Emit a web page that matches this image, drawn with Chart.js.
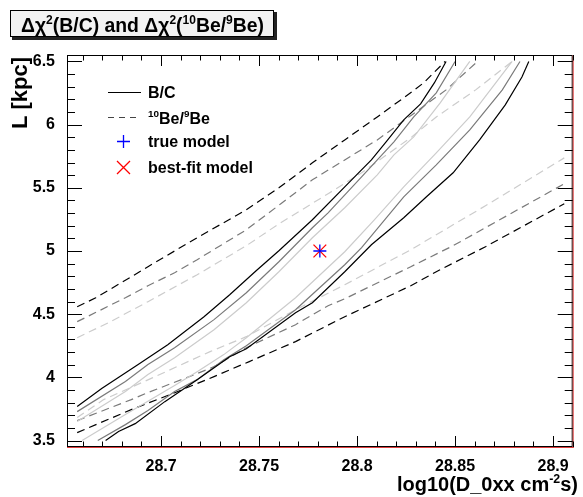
<!DOCTYPE html>
<html>
<head>
<meta charset="utf-8">
<script src="https://cdn.jsdelivr.net/npm/chart.js@4/dist/chart.umd.min.js"></script>
<style>
  body { margin: 0; background: #fff; }
</style>
</head>
<body>
<canvas id="c" width="583" height="497"></canvas>
<script>
// axis ticks
var xTicks = [28.7, 28.75, 28.8, 28.85, 28.9];
var xTickLabels = ['28.7', '28.75', '28.8', '28.85', '28.9'];
var yTicks = [3.5, 4, 4.5, 5, 5.5, 6, 6.5];
var yTickLabels = ['3.5', '4', '4.5', '5', '5.5', '6', '6.5'];

// B/C contours (1 = black outer, 2 = gray, 3 = light gray inner), Up = left branch, Lo = right branch
var bc1UpD = [28.6572, 28.6697, 28.6883, 28.7034, 28.7219, 28.7350, 28.7485, 28.7601, 28.7772, 28.7937, 28.8073, 28.8148, 28.8238, 28.8324, 28.8394, 28.8454];
var bc1UpL = [3.769, 3.911, 4.101, 4.259, 4.480, 4.654, 4.844, 5.002, 5.247, 5.508, 5.721, 5.864, 6.038, 6.164, 6.330, 6.5];
var bc2UpD = [28.6572, 28.6818, 28.6933, 28.7069, 28.7270, 28.7435, 28.7601, 28.7772, 28.7852, 28.8023, 28.8188, 28.8289, 28.8404, 28.8500];
var bc2UpL = [3.729, 3.967, 4.101, 4.235, 4.457, 4.670, 4.915, 5.184, 5.302, 5.587, 5.864, 6.061, 6.251, 6.5];
var bc3UpD = [28.6572, 28.6818, 28.6933, 28.7069, 28.7270, 28.7435, 28.7601, 28.7772, 28.7937, 28.8103, 28.8188, 28.8289, 28.8424, 28.8575];
var bc3UpL = [3.650, 3.888, 4.022, 4.156, 4.377, 4.591, 4.836, 5.105, 5.342, 5.603, 5.761, 5.903, 6.172, 6.5];
var bc3LoD = [28.6597, 28.6818, 28.7069, 28.7184, 28.7320, 28.7435, 28.7686, 28.7937, 28.8088, 28.8238, 28.8404, 28.8575, 28.8791];
var bc3LoL = [3.5, 3.706, 3.935, 4.045, 4.180, 4.314, 4.630, 4.994, 5.247, 5.508, 5.777, 6.061, 6.5];
var bc2LoD = [28.6677, 28.6818, 28.6933, 28.7069, 28.7184, 28.7320, 28.7435, 28.7686, 28.7937, 28.8023, 28.8238, 28.8404, 28.8575, 28.8741, 28.8831];
var bc2LoL = [3.5, 3.626, 3.737, 3.888, 3.982, 4.140, 4.251, 4.535, 4.891, 5.026, 5.429, 5.682, 5.958, 6.275, 6.5];
var bc1LoD = [28.6717, 28.6783, 28.6868, 28.7019, 28.7184, 28.7350, 28.7435, 28.7686, 28.7772, 28.7937, 28.8073, 28.8238, 28.8354, 28.8490, 28.8625, 28.8756, 28.8841, 28.8876];
var bc1LoL = [3.5, 3.571, 3.634, 3.808, 3.982, 4.164, 4.227, 4.512, 4.591, 4.836, 5.049, 5.263, 5.429, 5.619, 5.879, 6.156, 6.377, 6.5];

// 10Be/9Be contours, same order
var be1UpD = [28.6572, 28.6667, 28.6848, 28.6933, 28.7184, 28.7435, 28.7601, 28.7772, 28.7937, 28.8103, 28.8279, 28.8339, 28.8449];
var be1UpL = [4.559, 4.630, 4.796, 4.876, 5.105, 5.326, 5.500, 5.698, 5.879, 6.061, 6.259, 6.330, 6.5];
var be2UpD = [28.6572, 28.6818, 28.6933, 28.7069, 28.7184, 28.7435, 28.7611, 28.7772, 28.7937, 28.8103, 28.8279, 28.8454, 28.8615];
var be2UpL = [4.441, 4.630, 4.725, 4.828, 4.931, 5.168, 5.374, 5.563, 5.721, 5.879, 6.077, 6.275, 6.5];
var be3UpD = [28.6572, 28.6732, 28.6933, 28.7184, 28.7435, 28.7601, 28.7852, 28.8023, 28.8279, 28.8404, 28.8605, 28.8791];
var be3UpL = [4.314, 4.433, 4.599, 4.812, 5.042, 5.215, 5.453, 5.619, 5.903, 6.061, 6.275, 6.5];
var be3LoD = [28.6572, 28.6707, 28.6958, 28.7250, 28.7435, 28.7686, 28.7937, 28.8274, 28.8655, 28.9057];
var be3LoL = [3.682, 3.824, 3.998, 4.204, 4.322, 4.535, 4.733, 5.010, 5.358, 5.737];
var be2LoD = [28.6572, 28.6848, 28.6933, 28.7184, 28.7270, 28.7435, 28.7686, 28.7852, 28.7937, 28.8274, 28.8490, 28.9057];
var be2LoL = [3.658, 3.824, 3.880, 4.030, 4.085, 4.235, 4.417, 4.567, 4.622, 4.876, 5.042, 5.532];
var be1LoD = [28.6572, 28.6848, 28.7059, 28.7270, 28.7450, 28.7686, 28.7937, 28.8274, 28.8404, 28.8655, 28.9057];
var be1LoL = [3.563, 3.745, 3.872, 4.006, 4.125, 4.283, 4.480, 4.725, 4.836, 5.034, 5.374];

// model points
var trueModel = [28.781, 5.0];
var bestFit = [28.781, 5.0];

var FONT = '"Liberation Sans", Arial, sans-serif';

function pts(d, l) {
  return d.map(function(v, i) { return { x: v, y: l[i] }; });
}

function line(d, l, color, dash, w) {
  return {
    data: pts(d, l),
    showLine: true,
    borderColor: color,
    borderWidth: w,
    borderDash: dash,
    pointRadius: 0,
    fill: false
  };
}

// text with superscripts: parts = [[text, isSup], ...]
function richText(ctx, parts, x, y, size) {
  var cx = x;
  parts.forEach(function(p) {
    var s = p[1] ? size * 0.62 : size;
    ctx.font = 'bold ' + s + 'px ' + FONT;
    ctx.fillText(p[0], cx, p[1] ? y - size * 0.42 : y);
    cx += ctx.measureText(p[0]).width;
  });
  return cx - x;
}
function richWidth(ctx, parts, size) {
  var w = 0;
  parts.forEach(function(p) {
    ctx.font = 'bold ' + (p[1] ? size * 0.62 : size) + 'px ' + FONT;
    w += ctx.measureText(p[0]).width;
  });
  return w;
}

var decor = {
  id: 'decor',
  beforeDraw: function(chart) {
    var ctx = chart.ctx;
    ctx.save();
    ctx.fillStyle = '#fff';
    ctx.fillRect(0, 0, chart.width, chart.height);
    ctx.restore();
  },
  afterDraw: function(chart) {
    var ctx = chart.ctx, a = chart.chartArea;
    var xs = chart.scales.x, ys = chart.scales.y;
    var i, v, p, len;
    ctx.save();

    // frame
    ctx.strokeStyle = '#000';
    ctx.lineWidth = 1;
    ctx.strokeRect(a.left + 0.5, a.top + 0.5, a.right - a.left - 1, a.bottom - a.top - 1);
    ctx.strokeStyle = '#e04040';
    ctx.beginPath();
    ctx.moveTo(a.left, a.bottom + 0.5); ctx.lineTo(a.right + 1, a.bottom + 0.5);
    ctx.moveTo(a.right + 0.5, a.top); ctx.lineTo(a.right + 0.5, a.bottom + 1);
    ctx.stroke();

    // inward ticks on all sides
    ctx.strokeStyle = '#000';
    ctx.beginPath();
    for (i = 0; i <= 30; i++) {
      v = 28.65 + i * 0.01;
      if (v < xs.min || v > xs.max) continue;
      p = Math.round(xs.getPixelForValue(v)) + 0.5;
      len = (i % 5 === 0) ? 11 : 5.5;
      ctx.moveTo(p, a.bottom); ctx.lineTo(p, a.bottom - len);
      ctx.moveTo(p, a.top); ctx.lineTo(p, a.top + len);
    }
    for (i = 0; i <= 35; i++) {
      v = 3.4 + i * 0.1;
      if (v < ys.min || v > ys.max) continue;
      p = Math.round(ys.getPixelForValue(v)) + 0.5;
      len = (i % 5 === 1) ? 15 : 8;
      ctx.moveTo(a.left, p); ctx.lineTo(a.left + len, p);
      ctx.moveTo(a.right, p); ctx.lineTo(a.right - len, p);
    }
    ctx.stroke();

    // title box
    ctx.fillStyle = '#222';
    ctx.fillRect(12, 12, 265, 28);
    ctx.fillStyle = '#f2f2f2';
    ctx.fillRect(10, 10, 264, 27);
    ctx.strokeStyle = '#000';
    ctx.strokeRect(10.5, 10.5, 263, 26);
    ctx.fillStyle = '#000';
    ctx.textBaseline = 'alphabetic';
    ctx.textAlign = 'left';
    richText(ctx, [['\u0394\u03c7', 0], ['2', 1], ['(B/C) and \u0394\u03c7', 0], ['2', 1], ['(', 0], ['10', 1], ['Be/', 0], ['9', 1], ['Be)', 0]], 21, 32, 19.4);

    // axis titles
    var xt = [['log10(D_0xx cm', 0], ['-2', 1], ['s)', 0]];
    var w = richWidth(ctx, xt, 20);
    richText(ctx, xt, 578 - w, 491, 20);
    ctx.save();
    ctx.translate(27, 57);
    ctx.rotate(-Math.PI / 2);
    ctx.textAlign = 'right';
    ctx.font = 'bold 22px ' + FONT;
    ctx.fillText('L [kpc]', 0, 0);
    ctx.restore();

    // legend
    ctx.textAlign = 'left';
    ctx.strokeStyle = '#000';
    ctx.lineWidth = 1.2;
    ctx.beginPath(); ctx.moveTo(108, 92.5); ctx.lineTo(141, 92.5); ctx.stroke();
    ctx.strokeStyle = '#444';
    ctx.setLineDash([6, 5]);
    ctx.beginPath(); ctx.moveTo(108, 117.5); ctx.lineTo(141, 117.5); ctx.stroke();
    ctx.setLineDash([]);
    ctx.lineWidth = 1.3;
    ctx.strokeStyle = '#0000ff';
    ctx.beginPath();
    ctx.moveTo(117, 141.5); ctx.lineTo(130, 141.5);
    ctx.moveTo(123.5, 135); ctx.lineTo(123.5, 148);
    ctx.stroke();
    ctx.strokeStyle = '#ff0000';
    ctx.beginPath();
    ctx.moveTo(117, 161); ctx.lineTo(130, 174);
    ctx.moveTo(130, 161); ctx.lineTo(117, 174);
    ctx.stroke();
    ctx.fillStyle = '#000';
    ctx.font = 'bold 16px ' + FONT;
    ctx.fillText('B/C', 148, 98);
    richText(ctx, [['10', 1], ['Be/', 0], ['9', 1], ['Be', 0]], 148, 124, 16);
    ctx.font = 'bold 16px ' + FONT;
    ctx.fillText('true model', 148, 147);
    ctx.fillText('best-fit model', 148, 173);
    ctx.restore();
  }
};

var black = '#000000', gray = '#7a7a7a', light = '#cccccc';
var dash = [8, 5];

new Chart(document.getElementById('c'), {
  type: 'scatter',
  data: {
    datasets: [
      { data: [{ x: trueModel[0], y: trueModel[1] }], pointStyle: 'cross', pointRadius: 6.5, borderColor: '#0000ff', borderWidth: 1.3, showLine: false },
      { data: [{ x: bestFit[0], y: bestFit[1] }], pointStyle: 'crossRot', pointRadius: 9, borderColor: '#ff0000', borderWidth: 1.3, showLine: false },
      line(bc1UpD, bc1UpL, black, [], 1.2),
      line(bc1LoD, bc1LoL, black, [], 1.2),
      line(bc2UpD, bc2UpL, gray, [], 1.2),
      line(bc2LoD, bc2LoL, gray, [], 1.2),
      line(bc3UpD, bc3UpL, light, [], 1.2),
      line(bc3LoD, bc3LoL, light, [], 1.2),
      line(be1UpD, be1UpL, black, dash, 1.2),
      line(be1LoD, be1LoL, black, dash, 1.2),
      line(be2UpD, be2UpL, gray, dash, 1.2),
      line(be2LoD, be2LoL, gray, dash, 1.2),
      line(be3UpD, be3UpL, light, dash, 1.2),
      line(be3LoD, be3LoL, light, dash, 1.2)
    ]
  },
  options: {
    responsive: false,
    animation: false,
    devicePixelRatio: 1,
    layout: { padding: { top: 55, right: 1, left: 0, bottom: 0 } },
    plugins: { legend: { display: false }, tooltip: { enabled: false }, title: { display: false } },
    scales: {
      x: {
        type: 'linear',
        min: 28.652,
        max: 28.910,
        grid: { display: false },
        border: { display: false },
        afterBuildTicks: function(s) { s.ticks = xTicks.map(function(v) { return { value: v }; }); },
        afterFit: function(s) { s.height = 50; },
        ticks: {
          color: '#000',
          padding: 2,
          maxRotation: 0,
          autoSkip: false,
          font: { family: FONT, size: 16, weight: 'bold' },
          callback: function(v, i) { return xTickLabels[i]; }
        }
      },
      y: {
        type: 'linear',
        min: 3.449,
        max: 6.551,
        grid: { display: false },
        border: { display: false },
        afterBuildTicks: function(s) { s.ticks = yTicks.map(function(v) { return { value: v }; }); },
        afterFit: function(s) { s.width = 67; },
        ticks: {
          color: '#000',
          padding: 4,
          autoSkip: false,
          font: { family: FONT, size: 16, weight: 'bold' },
          callback: function(v, i) { return yTickLabels[i]; }
        }
      }
    }
  },
  plugins: [decor]
});
</script>
</body>
</html>
